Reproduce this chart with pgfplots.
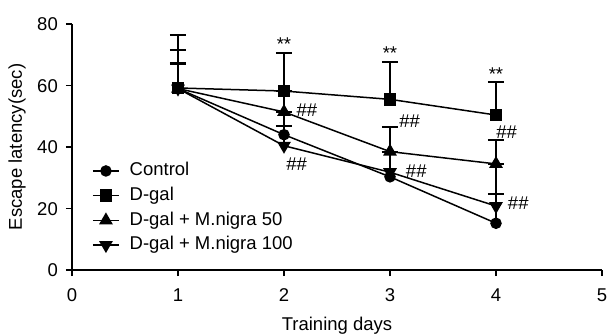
\documentclass[border=0pt]{standalone}
\usepackage{pgfplots}
\pgfplotsset{compat=1.18}
\usepackage{fontspec}
\setmainfont{Liberation Sans}

\pgfplotstableread{
x y e
1 59.0 8.0
2 44.0 2.9
3 30.3 8.0
4 15.2 9.5
}\control
\pgfplotstableread{
x y e
1 59.2 17.2
2 58.2 12.4
3 55.5 12.1
4 50.4 10.6
}\dgal
\pgfplotstableread{
x y e
1 59.0 12.5
2 51.4 6.8
3 38.5 8.1
4 34.5 7.8
}\mnfifty
\pgfplotstableread{
x y e
1 59.0 8.3
2 40.4 11.0
3 31.8 6.7
4 20.8 13.7
}\mnhundred

\begin{document}
\begin{tikzpicture}[font=\fontsize{18.5bp}{22bp}\selectfont]
\begin{axis}[
  at={(0,0)}, anchor=south west,
  scale only axis, width=530bp, height=246bp,
  xmin=0, xmax=5, ymin=0, ymax=80,
  xtick={0,1,2,3,4,5}, ytick={0,20,40,60,80},
  axis x line=bottom, axis y line=left,
  axis line style={-, line width=1.6bp},
  tick align=outside, major tick length=6bp,
  tick style={line width=1.6bp, black},
  /pgf/number format/assume math mode=true,
  xticklabel style={inner sep=0pt, text height=13bp, text depth=0pt},
  yticklabel style={inner sep=0pt, text height=13bp, text depth=0pt},
  xticklabel shift=12bp, yticklabel shift=8bp,
  xlabel={Training days}, ylabel={Escape latency(sec)},
  every axis x label/.style={at={(axis description cs:0.5,0)}, anchor=base, yshift=-60.5bp},
  every axis y label/.style={at={(axis description cs:0,0.5)}, xshift=-50bp, rotate=90, anchor=base},
  clip=false,
  legend cell align=left,
  legend style={at={(axis description cs:0.0377,0.439)}, anchor=north west, draw=none, fill=none,
    inner sep=0pt, row sep=7.2bp, column sep=10bp,
    nodes={inner sep=0pt, text height=13.5bp, text depth=4bp, anchor=west}},
  legend image code/.code={\draw[#1, mark repeat=2, mark phase=2] plot coordinates {(0bp,0bp) (13bp,0bp) (26bp,0bp)};},
  every axis plot/.append style={black, line width=1.5bp},
  error bars/y dir=plus, error bars/y explicit,
  error bars/error bar style={line width=2bp, black},
  error bars/error mark options={rotate=90, mark size=8bp, line width=2bp, black},
]
\addplot[mark=*, mark size=5bp, mark options={solid, fill=black}] table[x=x, y=y, y error=e] {\control};
\addlegendentry{Control}
\addplot[mark=square*, mark size=5.5bp, mark options={solid, fill=black}] table[x=x, y=y, y error=e] {\dgal};
\addlegendentry{D-gal}
\addplot[mark=triangle*, mark size=6.5bp, mark options={solid, fill=black}] table[x=x, y=y, y error=e] {\mnfifty};
\addlegendentry{D-gal + M.nigra 50}
\addplot[mark=triangle*, mark size=6.5bp, mark options={solid, fill=black, rotate=180}] table[x=x, y=y, y error=e] {\mnhundred};
\addlegendentry{D-gal + M.nigra 100}

\node[anchor=base, inner sep=0pt] at (axis cs:2,71.3) {**};
\node[anchor=base, inner sep=0pt] at (axis cs:3,68.3) {**};
\node[anchor=base, inner sep=0pt] at (axis cs:4,61.7) {**};

\node[inner sep=0pt] at (axis cs:2.217,52.0) {\#\#};
\node[inner sep=0pt] at (axis cs:2.12,34.4) {\#\#};
\node[inner sep=0pt] at (axis cs:3.186,48.4) {\#\#};
\node[inner sep=0pt] at (axis cs:3.248,32.1) {\#\#};
\node[inner sep=0pt] at (axis cs:4.10,44.7) {\#\#};
\node[inner sep=0pt] at (axis cs:4.21,21.8) {\#\#};
\end{axis}
\pgfresetboundingbox
\path (-72bp,-65bp) rectangle (537bp,270bp);
\end{tikzpicture}
\end{document}
